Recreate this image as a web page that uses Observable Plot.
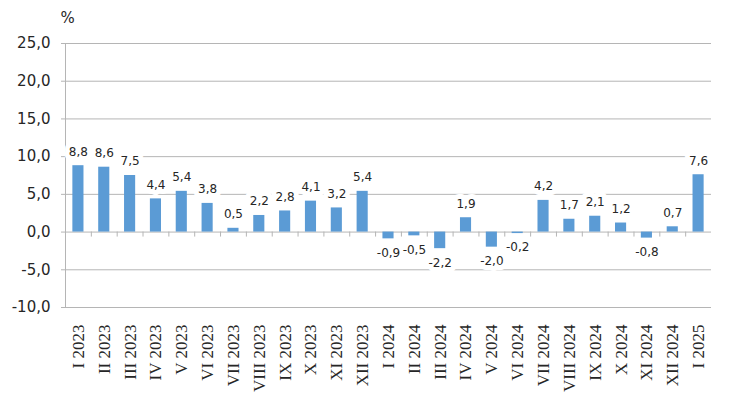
<!DOCTYPE html>
<html><head><meta charset="utf-8">
<script src="https://cdn.jsdelivr.net/npm/d3@7"></script>
<script src="https://cdn.jsdelivr.net/npm/@observablehq/plot@0.6"></script>
<style>body{margin:0;background:#fff}</style>
</head><body><div id="chart"></div>
<script>
const periods = ["I 2023","II 2023","III 2023","IV 2023","V 2023","VI 2023","VII 2023","VIII 2023","IX 2023","X 2023","XI 2023","XII 2023",
  "I 2024","II 2024","III 2024","IV 2024","V 2024","VI 2024","VII 2024","VIII 2024","IX 2024","X 2024","XI 2024","XII 2024","I 2025"];
const values = [8.8, 8.6, 7.5, 4.4, 5.4, 3.8, 0.5, 2.2, 2.8, 4.1, 3.2, 5.4,
  -0.9, -0.5, -2.2, 1.9, -2.0, -0.2, 4.2, 1.7, 2.1, 1.2, -0.8, 0.7, 7.6];
const yTicks = [-10, -5, 0, 5, 10, 15, 20, 25];
const yDomain = [-10, 25];
const unitLabel = "%";

const data = periods.map((p, i) => ({period: p, value: values[i]}));
const pos = data.filter(d => d.value >= 0);
const neg = data.filter(d => d.value < 0);
const fmt = v => v.toFixed(1).replace(".", ",");
const gridColor = "#b5b5b5";
const textColor = "#262626";
const labelStyle = {x: "period", y: "value", text: d => fmt(d.value), fontSize: 12};

const chart = Plot.plot({
  width: 740, height: 401,
  marginLeft: 65, marginRight: 29, marginTop: 43, marginBottom: 94,
  style: {fontFamily: "DejaVu Sans", background: "#fff", color: textColor},
  x: {domain: periods, paddingInner: 0.57, paddingOuter: 0.285, round: false, label: null},
  y: {domain: yDomain, label: null},
  marks: [
    Plot.gridY(yTicks, {stroke: gridColor, strokeOpacity: 1}),
    Plot.frame({anchor: "left", stroke: gridColor}),
    Plot.ruleX(periods, {x: d => d, y1: 0, y2: 0, dx: -12.92, insetBottom: -5, stroke: gridColor}),
    Plot.axisY(yTicks, {tickFormat: fmt, tickSize: 4, tickPadding: 11, fontSize: 15, stroke: gridColor, fill: textColor}),
    Plot.axisX({tickRotate: -90, tickSize: 0, tickPadding: 17, fontSize: 17, fontFamily: "Liberation Serif", fill: textColor}),
    Plot.text(pos, {...labelStyle, dy: -14, fill: "white", stroke: "white", strokeWidth: 10}),
    Plot.text(neg, {...labelStyle, dy: 14, fill: "white", stroke: "white", strokeWidth: 10}),
    Plot.text(pos, {...labelStyle, dy: -14, fill: textColor}),
    Plot.text(neg, {...labelStyle, dy: 14, fill: textColor}),
    Plot.barY(data, {x: "period", y: "value", fill: "#5B9BD5"}),
    Plot.text([unitLabel], {frameAnchor: "top-left", dx: 2, dy: -25, textAnchor: "middle", lineAnchor: "middle", fontSize: 15, fill: textColor})
  ]
});
document.getElementById("chart").appendChild(chart);
</script>
</body></html>
